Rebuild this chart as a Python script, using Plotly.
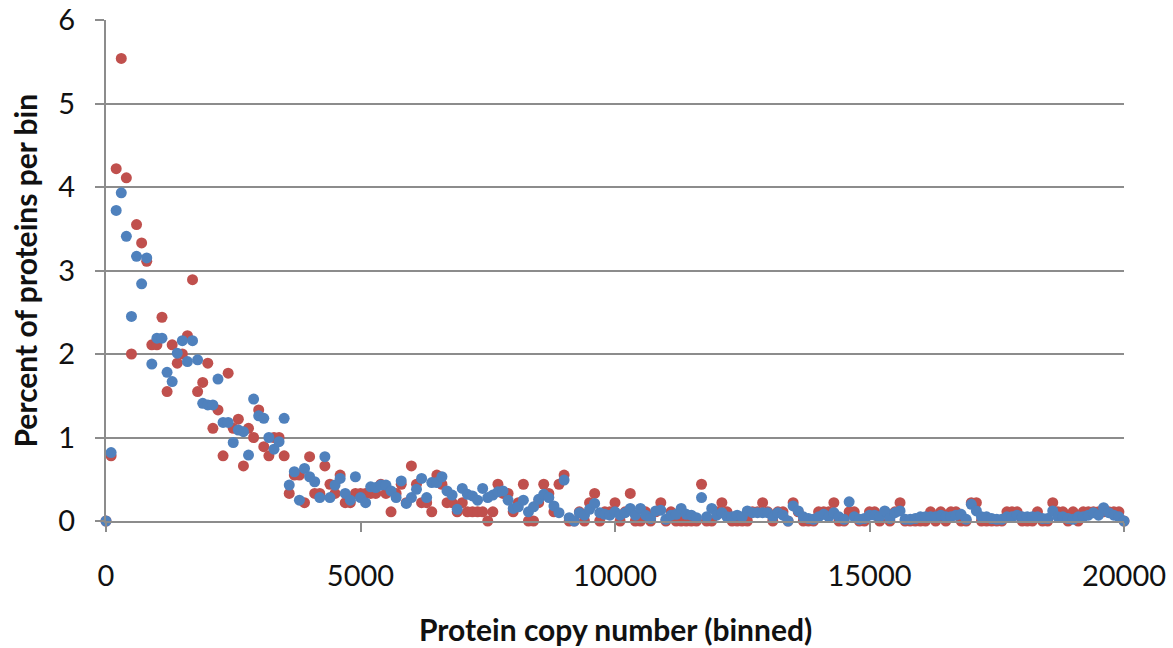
import plotly.graph_objects as go

# Protein copy number bins (width 100), 0 .. 20000
bin_width = 100
bin_start = list(range(0, 20001, bin_width))

# Percent of proteins per bin, red series
red_pct = [
    0, 0.78, 4.22, 5.54, 4.11, 2.00, 3.55, 3.33, 3.11, 2.11,
    2.11, 2.44, 1.55, 2.11, 1.89, 2.00, 2.22, 2.89, 1.55, 1.66,
    1.89, 1.11, 1.33, 0.78, 1.77, 1.11, 1.22, 0.66, 1.11, 1.00,
    1.33, 0.89, 0.78, 1.00, 1.00, 0.78, 0.33, 0.55, 0.55, 0.22,
    0.77, 0.33, 0.33, 0.66, 0.44, 0.33, 0.55, 0.22, 0.22, 0.33,
    0.33, 0.33, 0.33, 0.33, 0.44, 0.33, 0.11, 0.33, 0.44, 0.22,
    0.66, 0.44, 0.22, 0.22, 0.11, 0.55, 0.44, 0.22, 0.22, 0.11,
    0.22, 0.11, 0.11, 0.11, 0.11, 0, 0.11, 0.44, 0.33, 0.33,
    0.11, 0.22, 0.44, 0, 0, 0.22, 0.44, 0.33, 0.11, 0.44,
    0.55, 0, 0, 0.11, 0, 0.22, 0.33, 0, 0.11, 0.11,
    0.22, 0, 0.11, 0.33, 0, 0, 0.11, 0, 0.11, 0.22,
    0, 0.11, 0, 0, 0, 0, 0, 0.44, 0, 0,
    0.11, 0.22, 0.11, 0, 0, 0, 0, 0.11, 0.11, 0.22,
    0.11, 0, 0.11, 0.11, 0, 0.22, 0.11, 0, 0, 0,
    0.11, 0.11, 0.11, 0.22, 0, 0, 0.11, 0.11, 0, 0,
    0.11, 0.11, 0, 0.11, 0, 0.11, 0.22, 0, 0, 0,
    0, 0, 0.11, 0, 0.11, 0, 0.11, 0.11, 0, 0,
    0.22, 0.22, 0, 0, 0, 0, 0, 0.11, 0.11, 0.11,
    0, 0, 0, 0.11, 0, 0, 0.22, 0.11, 0.11, 0,
    0.11, 0, 0.11, 0.11, 0.11, 0.11, 0.11, 0.11, 0.11, 0.11,
    0,
]

# Percent of proteins per bin, blue series
blue_pct = [
    0, 0.82, 3.72, 3.93, 3.41, 2.45, 3.17, 2.84, 3.15, 1.88,
    2.19, 2.19, 1.78, 1.67, 2.01, 2.16, 1.91, 2.16, 1.93, 1.41,
    1.39, 1.39, 1.70, 1.18, 1.18, 0.94, 1.09, 1.07, 0.79, 1.46,
    1.26, 1.23, 1.00, 0.86, 0.95, 1.23, 0.43, 0.59, 0.25, 0.63,
    0.53, 0.47, 0.28, 0.77, 0.28, 0.43, 0.51, 0.33, 0.25, 0.53,
    0.28, 0.22, 0.41, 0.40, 0.43, 0.43, 0.36, 0.28, 0.48, 0.21,
    0.28, 0.38, 0.51, 0.28, 0.46, 0.46, 0.53, 0.36, 0.31, 0.14,
    0.39, 0.32, 0.30, 0.25, 0.39, 0.28, 0.31, 0.35, 0.36, 0.25,
    0.15, 0.17, 0.25, 0.11, 0.17, 0.26, 0.32, 0.28, 0.18, 0.10,
    0.49, 0.04, 0, 0.10, 0.07, 0.14, 0.21, 0.10, 0.08, 0.07,
    0.11, 0.07, 0.10, 0.15, 0.07, 0.15, 0.07, 0.03, 0.12, 0.13,
    0.02, 0.07, 0.08, 0.15, 0.08, 0.07, 0.04, 0.28, 0.05, 0.15,
    0.07, 0.10, 0.05, 0.05, 0.07, 0.05, 0.12, 0.10, 0.10, 0.10,
    0.10, 0.05, 0.10, 0.07, 0, 0.18, 0.12, 0.05, 0.03, 0.02,
    0.05, 0.08, 0.05, 0.10, 0.05, 0.02, 0.23, 0.05, 0.02, 0.03,
    0.07, 0.07, 0.05, 0.12, 0.03, 0.10, 0.12, 0.02, 0.02, 0.03,
    0.05, 0.05, 0.05, 0.05, 0.07, 0.05, 0.05, 0.07, 0.08, 0.02,
    0.20, 0.12, 0.05, 0.05, 0.03, 0.02, 0.02, 0.05, 0.05, 0.07,
    0.05, 0.05, 0.05, 0.05, 0.03, 0.03, 0.12, 0.05, 0.05, 0.03,
    0.02, 0.05, 0.05, 0.07, 0.10, 0.07, 0.16, 0.10, 0.07, 0.05,
    0,
]

x_ticks = [0, 5000, 10000, 15000, 20000]
y_ticks = [0, 1, 2, 3, 4, 5, 6]

RED = "#C0504D"
BLUE = "#4F81BD"
GRID = "#8C8C8C"
FONT = "Lato"

fig = go.Figure()
fig.add_trace(go.Scatter(x=bin_start, y=red_pct, mode="markers", cliponaxis=False,
                         marker=dict(color=RED, size=11), showlegend=False))
fig.add_trace(go.Scatter(x=bin_start, y=blue_pct, mode="markers", cliponaxis=False,
                         marker=dict(color=BLUE, size=11), showlegend=False))

fig.update_xaxes(
    range=[0, 20000], tickvals=x_ticks, ticktext=[str(v) for v in x_ticks],
    automargin=False,
    showgrid=False, zeroline=False, showline=True, linecolor=GRID, linewidth=2,
    ticks="outside", ticklen=9, tickwidth=2, tickcolor=GRID,
    ticklabelstandoff=19,
    tickfont=dict(family=FONT, size=29, color="#111111"),
)
fig.update_yaxes(
    range=[0, 6], tickvals=y_ticks, automargin=False,
    showgrid=True, gridcolor=GRID, gridwidth=2, zeroline=False,
    showline=True, linecolor=GRID, linewidth=2,
    ticks="outside", ticklen=9, tickwidth=2, tickcolor=GRID,
    ticklabelstandoff=14,
    tickfont=dict(family=FONT, size=29, color="#111111"),
)

fig.update_layout(
    width=1173, height=648,
    margin=dict(l=106, r=49, t=20, b=127),
    paper_bgcolor="white", plot_bgcolor="white",
    annotations=[
        dict(text="<b>Protein copy number (binned)</b>", xref="paper", yref="paper",
             x=0.5, y=0, xanchor="center", yanchor="middle", yshift=-108,
             showarrow=False, font=dict(family=FONT, size=30, color="#111111")),
        dict(text="<b>Percent of proteins per bin</b>", xref="paper", yref="paper",
             x=0, y=0.5, xanchor="center", yanchor="middle", xshift=-82,
             textangle=-90, showarrow=False,
             font=dict(family=FONT, size=30, color="#111111")),
    ],
)

fig.write_html("out.html")
